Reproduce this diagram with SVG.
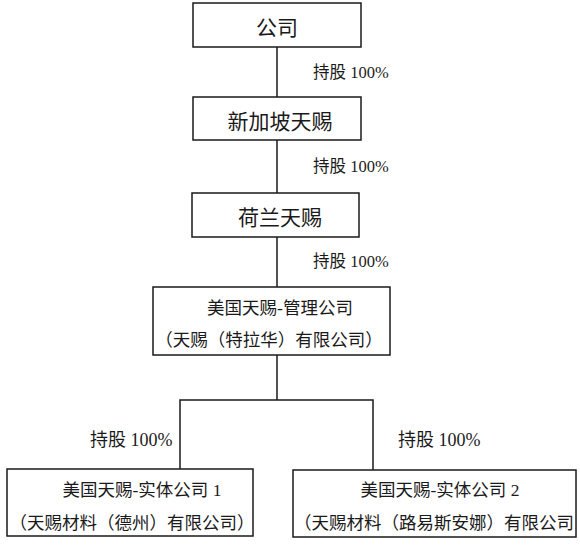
<svg xmlns="http://www.w3.org/2000/svg" width="580" height="546" viewBox="0 0 580 546">
<style>
.box{fill:#fff;stroke:#1a1a1a;stroke-width:1.5}
.t{font-family:"Liberation Serif","Noto Sans CJK SC",serif;font-size:21px;fill:#1a1a1a;text-anchor:middle}
.s{font-family:"Liberation Serif","Noto Sans CJK SC",serif;font-size:17.5px;fill:#1a1a1a;text-anchor:middle}
.l{font-family:"Liberation Serif","Noto Sans CJK SC",serif;font-size:16.5px;fill:#1a1a1a}
.lb{font-family:"Liberation Serif","Noto Sans CJK SC",serif;font-size:18px;fill:#1a1a1a}
.c{fill:none;stroke:#1a1a1a;stroke-width:1.5}
</style>
<rect width="580" height="546" fill="#fff"/>
<g id="connectors">
<line class="c" x1="277" y1="47" x2="277" y2="97"/>
<line class="c" x1="277" y1="140" x2="277" y2="193"/>
<line class="c" x1="277" y1="237" x2="277" y2="287"/>
<polyline class="c" points="277,355 277,400"/>
<polyline class="c" points="180,469 180,400 373,400 373,470"/>
<text class="l" x="313" y="78">持股 100%</text>
<text class="l" x="313" y="172">持股 100%</text>
<text class="l" x="313" y="267">持股 100%</text>
<text class="lb" x="90" y="446">持股 100%</text>
<text class="lb" x="398" y="446">持股 100%</text>
</g>
<g id="n1"><rect class="box" x="193" y="3" width="168" height="44"/><text class="t" x="277" y="35">公司</text></g>
<g id="n2"><rect class="box" x="193" y="97" width="168" height="43"/><text class="t" x="280" y="129">新加坡天赐</text></g>
<g id="n3"><rect class="box" x="192" y="193" width="167" height="44"/><text class="t" x="280" y="225">荷兰天赐</text></g>
<g id="n4"><rect class="box" x="153" y="287" width="237" height="68"/><text class="s" x="280" y="314">美国天赐-管理公司</text><text class="s" x="269" y="346">（天赐（特拉华）有限公司）</text></g>
<g id="n5"><rect class="box" x="7" y="469" width="246" height="67"/><text class="s" x="142" y="496">美国天赐-实体公司 1</text><text class="s" x="132" y="529">（天赐材料（德州）有限公司）</text></g>
<g id="n6"><rect class="box" x="293" y="470" width="283" height="67"/><text class="s" x="440" y="496">美国天赐-实体公司 2</text><text class="s" x="434" y="529">（天赐材料（路易斯安娜）有限公司</text></g>
</svg>
